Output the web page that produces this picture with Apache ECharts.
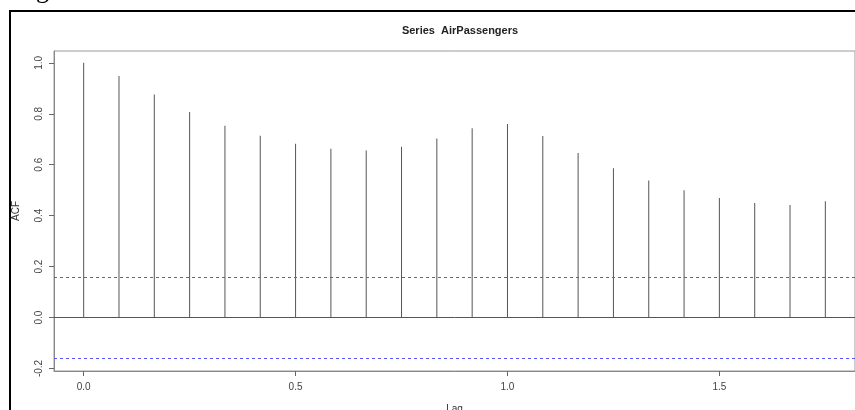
<!DOCTYPE html>
<html>
<head>
<meta charset="utf-8">
<script src="https://cdn.jsdelivr.net/npm/echarts@6/dist/echarts.min.js"></script>
<style>html,body{margin:0;padding:0;background:#fff}#c{width:855px;height:410px}</style>
</head>
<body>
<div id="c"></div>
<script>
const lags = [0, 1/12, 2/12, 3/12, 4/12, 5/12, 6/12, 7/12, 8/12, 9/12, 10/12, 11/12, 1, 13/12, 14/12, 15/12, 16/12, 17/12, 18/12, 19/12, 20/12, 21/12];
const acfValues = [1.000, 0.948, 0.876, 0.807, 0.753, 0.714, 0.682, 0.663, 0.656, 0.671, 0.703, 0.743, 0.760, 0.713, 0.646, 0.586, 0.538, 0.500, 0.469, 0.450, 0.442, 0.457];
const confLimit = 0.1633;
const xTicks = [0, 0.5, 1.0, 1.5];
const yTicks = [-0.2, 0.0, 0.2, 0.4, 0.6, 0.8, 1.0];
const titleText = 'Series  AirPassengers';

const chart = echarts.init(document.getElementById('c'), null, {renderer: 'canvas'});
const gray = '#666';
chart.setOption({
  animation: false,
  backgroundColor: '#fff',
  title: {
    text: titleText, left: 455, top: 20, textAlign: 'center',
    textStyle: {fontFamily: 'Liberation Sans, Arial', fontSize: 11, fontWeight: 'bold', color: '#222'}
  },
  grid: {left: 54, right: 0, top: 51, bottom: 39, show: true, borderColor: '#999', borderWidth: 1,
    containLabel: false, outerBoundsMode: 'none'},
  xAxis: {
    type: 'value', min: -0.07, max: 1.82,
    name: 'Lag', nameLocation: 'middle', nameGap: 33,
    nameTextStyle: {fontFamily: 'Liberation Sans, Arial', fontSize: 10, color: '#333'},
    axisLine: {show: true, onZero: false, lineStyle: {color: '#888'}},
    axisTick: {show: true, customValues: xTicks, length: 5, lineStyle: {color: gray}},
    axisLabel: {customValues: xTicks, margin: 11, fontFamily: 'Liberation Sans, Arial', fontSize: 10, color: '#444',
      formatter: v => v.toFixed(1)},
    splitLine: {show: false}
  },
  yAxis: {
    type: 'value', min: -0.21, max: 1.0465,
    name: 'ACF', nameLocation: 'middle', nameGap: 33, nameRotate: 90,
    nameTextStyle: {fontFamily: 'Liberation Sans, Arial', fontSize: 10, color: '#333'},
    axisLine: {show: true, onZero: false, lineStyle: {color: '#888'}},
    axisTick: {show: true, customValues: yTicks, length: 5, lineStyle: {color: gray}},
    axisLabel: {customValues: yTicks, rotate: 90, margin: 10, fontFamily: 'Liberation Sans, Arial', fontSize: 10, color: '#444',
      formatter: v => v.toFixed(1)},
    splitLine: {show: false}
  },
  series: [{
    type: 'bar',
    barWidth: 1,
    data: lags.map((l, i) => [l, acfValues[i]]),
    itemStyle: {color: '#555'},
    markLine: {
      silent: true, symbol: 'none', label: {show: false},
      data: [
        {yAxis: 0, lineStyle: {color: '#555', type: 'solid', width: 1}},
        {yAxis: confLimit, lineStyle: {color: '#5555ff', type: [3, 3], width: 1}},
        {yAxis: -confLimit, lineStyle: {color: '#5555ff', type: [3, 3], width: 1}}
      ]
    }
  }],
  graphic: [
    {type: 'polyline', shape: {points: [[10, 410], [10, 11], [855, 11]]}, style: {stroke: '#000', lineWidth: 2, fill: null}},
    {type: 'text', left: 36, top: -22, style: {text: 'g', font: '26px "Liberation Serif"', fill: '#000'}}
  ]
});
</script>
</body>
</html>
